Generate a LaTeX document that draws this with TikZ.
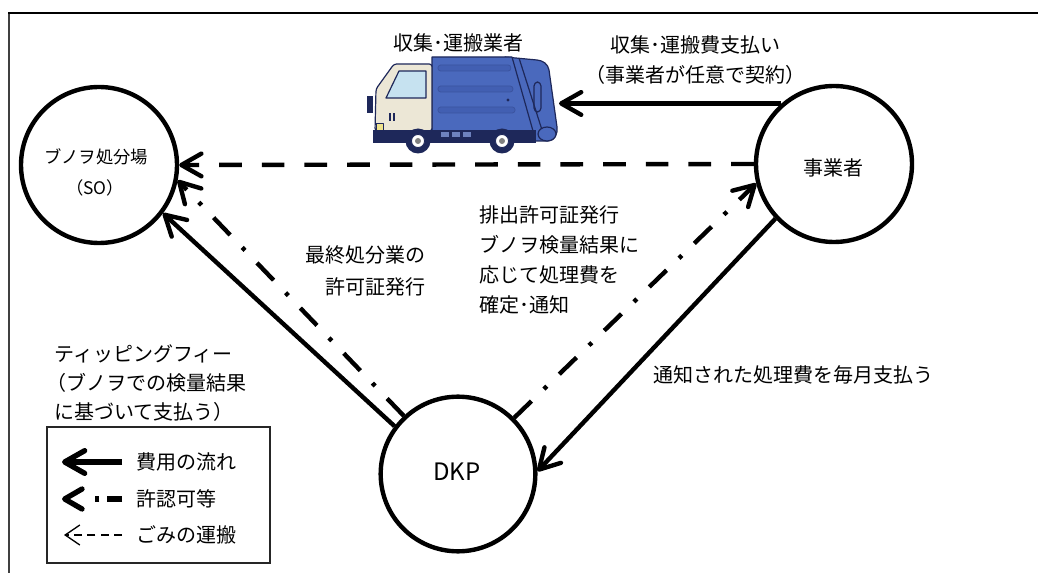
\documentclass[tikz,border=0pt]{standalone}
\usepackage{fontspec}
\setmainfont{Noto Sans CJK JP}
\setsansfont{Noto Sans CJK JP}
\usetikzlibrary{arrows.meta}

\definecolor{truckblue}{RGB}{74,105,189}
\definecolor{stripeblue}{RGB}{66,95,178}
\definecolor{navy}{RGB}{30,40,90}
\definecolor{cream}{RGB}{236,231,214}
\definecolor{glass}{RGB}{198,226,240}
\definecolor{lamp}{RGB}{238,226,140}
\definecolor{chassislight}{RGB}{110,130,190}

\begin{document}
\begin{tikzpicture}[x=0.75pt,y=-0.75pt,
  txt/.style={font=\fontsize{15}{22.5}\selectfont, inner sep=0pt},
  hub/.style={circle, draw, line width=3.3pt, minimum size=117pt, inner sep=0pt},
  barb/.style={-{Straight Barb[length=15pt,width=17pt,round]}},
  flow/.style={line width=3.3pt, barb},
  haul/.style={line width=3.3pt, dash pattern=on 17pt off 15pt, barb},
  permit/.style={line width=3.3pt, dash pattern=on 18pt off 13pt on 3pt off 13pt, barb}]
\useasboundingbox (0,0) rectangle (1038,573);
\fill[white] (0,0) rectangle (1038,573);

% frame
\draw[line width=1.5pt, black!75] (9,573) -- (9,13);
\draw[line width=1.6pt] (8,13) -- (1038,13);

% the three parties
\node[hub] (so) at (99,165) {};
\node[hub] (jig) at (834,164) {};
\node[hub, minimum size=116pt] (dkp) at (458,474) {};

\node[txt, font=\fontsize{13}{16}\selectfont] (solabel) at (96,157) {ブノヲ処分場};
\node[txt, font=\fontsize{13}{16}\selectfont] (socode) at (95,188) {（SO）};
\node[txt] (jiglabel) at (833,168) {事業者};
\node[txt, font=\fontsize{18}{20}\selectfont] (dkplabel) at (457,472) {DKP};

% garbage truck
\begin{scope}[draw=navy, line width=0.9pt, line join=round]
  % rear compactor
  \filldraw[fill=truckblue] (505,57) -- (537,60) to[out=-5,in=100] (549,70)
     -- (557,127) to[out=-80,in=0] (548,141) -- (530,141) -- (520,131) -- cycle;
  % box body
  \filldraw[fill=truckblue] (432,57) -- (512,57) -- (533,131) -- (432,131) -- cycle;
  \draw (519,58) -- (542,130);
  \draw[rounded corners=3pt] (534,82) rectangle (541,112);
  \foreach \y in {68,89,110}
    \filldraw[fill=stripeblue, draw=stripeblue!80!navy, line width=0.6pt, rounded corners=2pt]
      (438,\y-3) rectangle (510+\y/10-6,\y+3);
  \fill[navy] (508,100) circle (1.7);
  \filldraw[fill=truckblue] (547,134) ellipse [x radius=9, y radius=7];
  % cab
  \filldraw[fill=cream, rounded corners=2pt] (432,64) -- (394,64) -- (376,89) -- (375,131) -- (432,131) -- cycle;
  \filldraw[fill=glass] (399,71) -- (426,71) -- (426,98) -- (386,98) -- cycle;
  \fill[navy] (367,96) rectangle (373,113);
  \filldraw[fill=lamp, line width=0.6pt] (376,123) rectangle (383,130);
  \fill[navy] (389,113) rectangle (391,121);
  \fill[navy] (393,113) rectangle (395,121);
  % chassis
  \fill[navy] (373,130) rectangle (536,143);
  \fill[chassislight] (441,132) rectangle (449,137);
  \fill[chassislight] (452,132) rectangle (460,137);
  \fill[chassislight] (463,132) rectangle (471,137);
  % wheels
  \foreach \cx in {418,502} {
    \fill[navy] (\cx,141) circle (12.5);
    \filldraw[fill=white, line width=0.6pt] (\cx,141) circle (6.5);
    \fill[gray] (\cx,141) circle (3);
  }
\end{scope}
\coordinate (truckR) at (559,103);
\node[txt] (carrier) at (458,43) {収集･運搬業者};

% connectors
\draw[flow] (jig.131) -- (jig.131 -| truckR);
\draw[haul] (jig.west) -- (so.east);
\draw[permit] (dkp.133) -- (so.-11);
\draw[flow] (dkp.143) -- (so.-37);
\draw[permit] (dkp.45) -- (jig.194);
\draw[flow] (jig.223) -- (dkp.2);

% connector labels
\node[txt, align=center] (fee) at (695,60) {収集･運搬費支払い\\（事業者が任意で契約）};
\node[txt, align=left, anchor=west, font=\fontsize{15}{22.5}\selectfont] (issue) at (479,260)
  {排出許可証発行\\ブノヲ検量結果に\\応じて処理費を\\確定･通知};
\node[txt, align=right, anchor=east, font=\fontsize{15}{24}\selectfont] (licence) at (426,271)
  {最終処分業の\\許可証発行};
\node[txt, align=left, anchor=west, font=\fontsize{15}{22}\selectfont] (tipping) at (54,383)
  {ティッピングフィー\\\kern-0.4em（ブノヲでの検量結果\\に基づいて支払う）};
\node[txt] (monthly) at (793,375) {通知された処理費を毎月支払う};

% legend
\draw[line width=0.8pt, black!85] (47,427) rectangle (270,563);
\coordinate (l1a) at (122,462); \coordinate (l1b) at (62,462);
\coordinate (l2a) at (122,499); \coordinate (l2b) at (62,499);
\coordinate (l3a) at (122,535); \coordinate (l3b) at (64,535);
\draw[line width=4pt, -{Straight Barb[length=15pt,width=17pt,round]}] (l1a) -- (l1b);
\draw[line width=4pt, dash pattern=on 11pt off 6pt on 3pt off 20pt,
      -{Straight Barb[length=13pt,width=15pt,round]}] (l2a) -- (l2b);
\draw[line width=1pt, dash pattern=on 6pt off 4pt,
      -{Straight Barb[length=11pt,width=15pt]}] (l3a) -- (l3b);
\node[txt, anchor=west] (leg1) at (136,462) {費用の流れ};
\node[txt, anchor=west] (leg2) at (136,499) {許認可等};
\node[txt, anchor=west] (leg3) at (136,535) {ごみの運搬};
\end{tikzpicture}
\end{document}
